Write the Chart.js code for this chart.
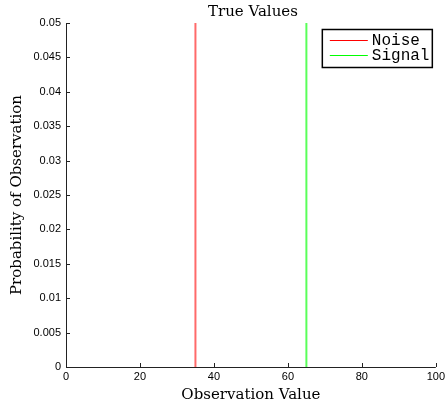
<!DOCTYPE html>
<html>
<head>
<meta charset="utf-8">
<script src="https://cdn.jsdelivr.net/npm/chart.js@4.4.0/dist/chart.umd.min.js"></script>
<style>
  html, body { margin: 0; padding: 0; background: #fff; }
  #wrap { width: 448px; height: 404px; }
</style>
</head>
<body>
<div id="wrap"><canvas id="chart" width="448" height="404"></canvas></div>
<script>
// values of the two vertical lines
const seriesNames = ["Noise", "Signal"];
const noiseX = [35, 35];
const noiseY = [0, 0.05];
const signalX = [65, 65];
const signalY = [0, 0.05];
const lineColors = ["rgba(255,80,80,0.85)", "rgba(60,255,60,0.85)"];
const legendColors = ["#ff0000", "#00ff00"];

const xTicks = [0, 20, 40, 60, 80, 100];
const yTicks = [0, 0.005, 0.01, 0.015, 0.02, 0.025, 0.03, 0.035, 0.04, 0.045, 0.05];

const serifFont = "'DejaVu Serif', 'Liberation Serif', serif";
const tickFont = { family: "'Liberation Sans', Arial, sans-serif", size: 11 };

function toPoints(xs, ys) {
    return xs.map((x, i) => ({ x: x, y: ys[i] }));
}

// axes with the tick marks on the inside, matlab style, plus the title
const innerTicks = {
    id: "innerTicks",
    afterDraw(chart) {
        const ctx = chart.ctx;
        const xs = chart.scales.x, ys = chart.scales.y;
        const area = chart.chartArea;
        ctx.save();
        ctx.strokeStyle = "#222";
        ctx.lineWidth = 1;
        ctx.beginPath();
        ctx.moveTo(area.left + 0.5, area.top);
        ctx.lineTo(area.left + 0.5, area.bottom + 0.5);
        ctx.lineTo(area.right, area.bottom + 0.5);
        xTicks.forEach(v => {
            const px = Math.round(xs.getPixelForValue(v)) + 0.5;
            ctx.moveTo(px, area.bottom);
            ctx.lineTo(px, area.bottom - 4);
        });
        yTicks.forEach(v => {
            const py = Math.round(ys.getPixelForValue(v)) + 0.5;
            ctx.moveTo(area.left, py);
            ctx.lineTo(area.left + 4, py);
        });
        ctx.stroke();

        ctx.fillStyle = "#000";
        ctx.font = "15px " + serifFont;
        ctx.textAlign = "center";
        ctx.textBaseline = "middle";
        ctx.fillText("True Values", (area.left + area.right) / 2 + 2, 12);
        ctx.restore();
    }
};

// boxed legend in the upper right corner of the plot
const boxLegend = {
    id: "boxLegend",
    afterDraw(chart) {
        const ctx = chart.ctx;
        const area = chart.chartArea;
        const left = area.right - 114, top = area.top + 6;
        const w = 110, h = 38;
        ctx.save();
        ctx.fillStyle = "#fff";
        ctx.fillRect(left, top, w, h);
        ctx.strokeStyle = "#000";
        ctx.lineWidth = 1.5;
        ctx.strokeRect(left + 0.5, top + 0.5, w, h);
        ctx.font = "16px 'Liberation Mono', 'DejaVu Sans Mono', monospace";
        ctx.textBaseline = "middle";
        chart.data.datasets.forEach((ds, i) => {
            const y = Math.round(top + 11 + i * 15);
            ctx.strokeStyle = legendColors[i];
            ctx.lineWidth = 1;
            ctx.beginPath();
            ctx.moveTo(left + 8, y + 0.5);
            ctx.lineTo(left + 46, y + 0.5);
            ctx.stroke();
            ctx.fillStyle = "#000";
            ctx.fillText(ds.label, left + 50, y + 1);
        });
        ctx.restore();
    }
};

new Chart(document.getElementById("chart"), {
    type: "scatter",
    data: {
        datasets: [
            { label: seriesNames[0], data: toPoints(noiseX, noiseY), showLine: true,
              borderColor: lineColors[0], borderWidth: 2, pointRadius: 0 },
            { label: seriesNames[1], data: toPoints(signalX, signalY), showLine: true,
              borderColor: lineColors[1], borderWidth: 2, pointRadius: 0 }
        ]
    },
    options: {
        responsive: false,
        animation: false,
        layout: { padding: { top: 23, right: 10, left: 0, bottom: 0 } },
        plugins: {
            legend: { display: false },
            tooltip: { enabled: false },
            title: { display: false }
        },
        scales: {
            x: {
                type: "linear",
                min: 0, max: 100,
                afterBuildTicks: s => { s.ticks = xTicks.map(v => ({ value: v })); },
                afterFit: s => { s.height = 37; },
                grid: { display: false, drawTicks: false },
                border: { display: false },
                ticks: { color: "#000", padding: 3, maxRotation: 0, font: tickFont },
                title: { display: true, text: "Observation Value", color: "#000", padding: 0,
                         font: { family: serifFont, size: 15 } }
            },
            y: {
                type: "linear",
                min: 0, max: 0.05,
                afterBuildTicks: s => { s.ticks = yTicks.map(v => ({ value: v })); },
                afterFit: s => { s.width = 66; },
                grid: { display: false, drawTicks: false },
                border: { display: false },
                ticks: { color: "#000", padding: 5,
                         callback: v => String(+v.toFixed(3)),
                         font: tickFont },
                title: { display: true, text: "Probability of Observation", color: "#000",
                         padding: { top: 8, bottom: 0 },
                         font: { family: serifFont, size: 15 } }
            }
        }
    },
    plugins: [innerTicks, boxLegend]
});
</script>
</body>
</html>
